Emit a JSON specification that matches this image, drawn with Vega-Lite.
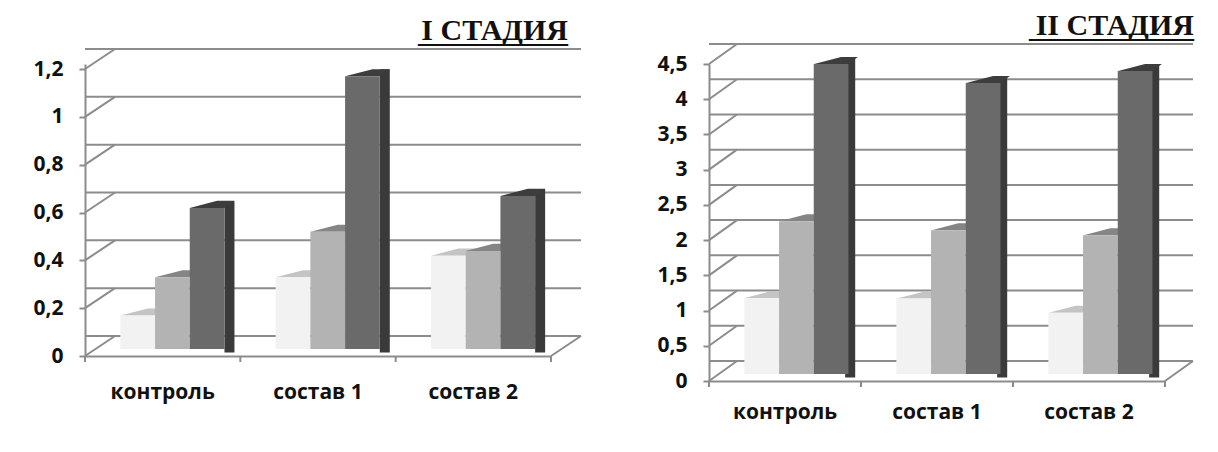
{
  "$schema": "https://vega.github.io/schema/vega-lite/v6.json",
  "padding": {"left": 32, "top": 11, "right": 0, "bottom": 20},
  "background": "white",
  "spacing": 70,
  "config": {
    "view": {"stroke": null},
    "axis": {
      "labelFont": "Open Sans",
      "labelFontSize": 21,
      "labelFontWeight": "bold",
      "labelColor": "#111111",
      "labelOverlap": false,
      "domainColor": "#8c8c8c",
      "domainWidth": 2,
      "tickColor": "#8c8c8c",
      "tickWidth": 2,
      "grid": false,
      "title": null
    },
    "title": {
      "font": "Liberation Serif",
      "fontSize": 30,
      "fontWeight": "bold",
      "color": "#111111",
      "subtitleFont": "Liberation Serif",
      "subtitleFontSize": 30,
      "subtitleFontWeight": "bold",
      "subtitleColor": "#111111",
      "subtitlePadding": -28,
      "anchor": "end",
      "frame": "group"
    }
  },
  "datasets": {
    "stage1": [
      {"cat": "контроль", "series": "1", "value": 0.14},
      {"cat": "контроль", "series": "2", "value": 0.30},
      {"cat": "контроль", "series": "3", "value": 0.59},
      {"cat": "состав 1", "series": "1", "value": 0.30},
      {"cat": "состав 1", "series": "2", "value": 0.49},
      {"cat": "состав 1", "series": "3", "value": 1.14},
      {"cat": "состав 2", "series": "1", "value": 0.39},
      {"cat": "состав 2", "series": "2", "value": 0.41},
      {"cat": "состав 2", "series": "3", "value": 0.64}
    ],
    "stage2": [
      {"cat": "контроль", "series": "1", "value": 1.08},
      {"cat": "контроль", "series": "2", "value": 2.17},
      {"cat": "контроль", "series": "3", "value": 4.40},
      {"cat": "состав 1", "series": "1", "value": 1.07},
      {"cat": "состав 1", "series": "2", "value": 2.04},
      {"cat": "состав 1", "series": "3", "value": 4.13},
      {"cat": "состав 2", "series": "1", "value": 0.87},
      {"cat": "состав 2", "series": "2", "value": 1.97},
      {"cat": "состав 2", "series": "3", "value": 4.30}
    ],
    "grid1": [{"v": 0}, {"v": 0.2}, {"v": 0.4}, {"v": 0.6}, {"v": 0.8}, {"v": 1.0}, {"v": 1.2}],
    "grid2": [{"v": 0}, {"v": 0.5}, {"v": 1}, {"v": 1.5}, {"v": 2}, {"v": 2.5}, {"v": 3}, {"v": 3.5}, {"v": 4}, {"v": 4.5}],
    "cats": [{"cat": "контроль"}, {"cat": "состав 1"}, {"cat": "состав 2"}]
  },
  "hconcat": [
    {
      "width": 466,
      "height": 292,
      "title": {"text": "I СТАДИЯ", "subtitle": "__________", "dx": 17, "offset": -3},
      "resolve": {"scale": {"color": "independent"}},
      "layer": [
        {
          "data": {"name": "grid1"},
          "mark": {"type": "rule", "color": "#8c8c8c", "strokeWidth": 2, "xOffset": 30, "yOffset": -20},
          "encoding": {
            "y": {
              "field": "v", "type": "quantitative",
              "scale": {"domain": [0, 1.221], "nice": false, "zero": true},
              "axis": {"values": [0, 0.2, 0.4, 0.6, 0.8, 1, 1.2], "tickSize": 6, "labelPadding": 16, "labelOverlap": false, "labelExpr": "replace(format(datum.value, '~g'), '.', ',')"}
            }
          }
        },
        {
          "data": {"name": "grid1"},
          "mark": {"type": "point", "shape": "M-2.589,0L-1.589,-0.667", "size": 3600, "filled": false, "stroke": "#8c8c8c", "strokeWidth": 2, "opacity": 1},
          "encoding": {
            "x": {"datum": "контроль", "type": "nominal"},
            "y": {"field": "v", "type": "quantitative",
              "axis": {"values": [0, 0.2, 0.4, 0.6, 0.8, 1, 1.2], "tickSize": 6, "labelPadding": 16, "labelOverlap": false, "labelExpr": "replace(format(datum.value, '~g'), '.', ',')"}}
          }
        },
        {
          "data": {"name": "cats"},
          "mark": {"type": "point", "shape": "M-12.944,0L-12.944,1", "size": 144, "filled": false, "stroke": "#8c8c8c", "strokeWidth": 2, "opacity": 1},
          "encoding": {
            "x": {"field": "cat", "type": "nominal"},
            "y": {"datum": 0, "type": "quantitative",
              "axis": {"values": [0, 0.2, 0.4, 0.6, 0.8, 1, 1.2], "tickSize": 6, "labelPadding": 16, "labelOverlap": false, "labelExpr": "replace(format(datum.value, '~g'), '.', ',')"}}
          }
        },
        {
          "data": {"values": [{"cat": "состав 2"}]},
          "mark": {"type": "point", "shape": "M2.589,0L3.589,-0.667M2.589,0L2.589,0.2", "size": 3600, "filled": false, "stroke": "#8c8c8c", "strokeWidth": 2, "opacity": 1},
          "encoding": {
            "x": {"field": "cat", "type": "nominal"},
            "y": {"datum": 0, "type": "quantitative",
              "axis": {"values": [0, 0.2, 0.4, 0.6, 0.8, 1, 1.2], "tickSize": 6, "labelPadding": 16, "labelOverlap": false, "labelExpr": "replace(format(datum.value, '~g'), '.', ',')"}}
          }
        },
        {
          "data": {"name": "stage1"},
          "transform": [{"filter": "datum.series == '3'"}],
          "mark": {"type": "rule", "strokeWidth": 10, "strokeCap": "butt", "xOffset": 66.8, "yOffset": -14, "y2Offset": -3.5, "color": "#3a3a3a"},
          "encoding": {
            "x": {"field": "cat", "type": "nominal"},
            "y": {"field": "value", "type": "quantitative",
              "axis": {"values": [0, 0.2, 0.4, 0.6, 0.8, 1, 1.2], "tickSize": 6, "labelPadding": 16, "labelOverlap": false, "labelExpr": "replace(format(datum.value, '~g'), '.', ',')"}},
            "y2": {"datum": 0}
          }
        },
        {
          "data": {"name": "stage1"},
          "mark": {"type": "point", "shape": "M-1,0L1,0L1.58,-0.41L0.58,-0.41Z", "size": 1204, "filled": true, "strokeWidth": 0, "opacity": 1, "yOffset": -7},
          "encoding": {
            "x": {"field": "cat", "type": "nominal"},
            "xOffset": {"field": "series", "type": "nominal"},
            "y": {"field": "value", "type": "quantitative",
              "axis": {"values": [0, 0.2, 0.4, 0.6, 0.8, 1, 1.2], "tickSize": 6, "labelPadding": 16, "labelOverlap": false, "labelExpr": "replace(format(datum.value, '~g'), '.', ',')"}},
            "color": {"field": "series", "type": "nominal", "legend": null,
              "scale": {"domain": ["1", "2", "3"], "range": ["#c4c4c4", "#858585", "#3d3d3d"]}}
          }
        },
        {
          "data": {"name": "stage1"},
          "mark": {"type": "bar", "yOffset": -7, "y2Offset": -7},
          "encoding": {
            "x": {
              "field": "cat", "type": "nominal",
              "scale": {"domain": ["контроль", "состав 1", "состав 2"], "paddingInner": 0, "paddingOuter": 0},
              "axis": {"labelAngle": 0, "labelAlign": "center", "ticks": false, "labelPadding": 36}
            },
            "xOffset": {"field": "series", "type": "nominal",
              "scale": {"domain": ["1", "2", "3"], "paddingInner": 0, "paddingOuter": 0.738, "align": 0.69}},
            "y": {"field": "value", "type": "quantitative",
              "axis": {"values": [0, 0.2, 0.4, 0.6, 0.8, 1, 1.2], "tickSize": 6, "labelPadding": 16, "labelOverlap": false, "labelExpr": "replace(format(datum.value, '~g'), '.', ',')"}},
            "y2": {"datum": 0},
            "color": {"field": "series", "type": "nominal", "legend": null,
              "scale": {"domain": ["1", "2", "3"], "range": ["#f2f2f2", "#b3b3b3", "#6a6a6a"]}}
          }
        }
      ]
    },
    {
      "width": 456,
      "height": 317,
      "title": {"text": "II СТАДИЯ", "subtitle": "___________", "dx": 29, "offset": -3},
      "resolve": {"scale": {"color": "independent"}},
      "layer": [
        {
          "data": {"name": "grid2"},
          "mark": {"type": "rule", "color": "#8c8c8c", "strokeWidth": 2, "xOffset": 28, "yOffset": -20},
          "encoding": {
            "y": {
              "field": "v", "type": "quantitative",
              "scale": {"domain": [0, 4.5], "nice": false, "zero": true},
              "axis": {"values": [0, 0.5, 1, 1.5, 2, 2.5, 3, 3.5, 4, 4.5], "tickSize": 6, "labelPadding": 16, "labelOverlap": false, "labelExpr": "replace(format(datum.value, '~g'), '.', ',')"}
            }
          }
        },
        {
          "data": {"name": "grid2"},
          "mark": {"type": "point", "shape": "M-2.714,0L-1.714,-0.714", "size": 3136, "filled": false, "stroke": "#8c8c8c", "strokeWidth": 2, "opacity": 1},
          "encoding": {
            "x": {"datum": "контроль", "type": "nominal"},
            "y": {"field": "v", "type": "quantitative",
              "axis": {"values": [0, 0.5, 1, 1.5, 2, 2.5, 3, 3.5, 4, 4.5], "tickSize": 6, "labelPadding": 16, "labelOverlap": false, "labelExpr": "replace(format(datum.value, '~g'), '.', ',')"}}
          }
        },
        {
          "data": {"name": "cats"},
          "mark": {"type": "point", "shape": "M-12.667,0L-12.667,1", "size": 144, "filled": false, "stroke": "#8c8c8c", "strokeWidth": 2, "opacity": 1},
          "encoding": {
            "x": {"field": "cat", "type": "nominal"},
            "y": {"datum": 0, "type": "quantitative",
              "axis": {"values": [0, 0.5, 1, 1.5, 2, 2.5, 3, 3.5, 4, 4.5], "tickSize": 6, "labelPadding": 16, "labelOverlap": false, "labelExpr": "replace(format(datum.value, '~g'), '.', ',')"}}
          }
        },
        {
          "data": {"values": [{"cat": "состав 2"}]},
          "mark": {"type": "point", "shape": "M2.714,0L3.714,-0.714M2.714,0L2.714,0.214", "size": 3136, "filled": false, "stroke": "#8c8c8c", "strokeWidth": 2, "opacity": 1},
          "encoding": {
            "x": {"field": "cat", "type": "nominal"},
            "y": {"datum": 0, "type": "quantitative",
              "axis": {"values": [0, 0.5, 1, 1.5, 2, 2.5, 3, 3.5, 4, 4.5], "tickSize": 6, "labelPadding": 16, "labelOverlap": false, "labelExpr": "replace(format(datum.value, '~g'), '.', ',')"}}
          }
        },
        {
          "data": {"name": "stage2"},
          "transform": [{"filter": "datum.series == '3'"}],
          "mark": {"type": "rule", "strokeWidth": 10, "strokeCap": "butt", "xOffset": 65.2, "yOffset": -14, "y2Offset": -3.5, "color": "#3a3a3a"},
          "encoding": {
            "x": {"field": "cat", "type": "nominal"},
            "y": {"field": "value", "type": "quantitative",
              "axis": {"values": [0, 0.5, 1, 1.5, 2, 2.5, 3, 3.5, 4, 4.5], "tickSize": 6, "labelPadding": 16, "labelOverlap": false, "labelExpr": "replace(format(datum.value, '~g'), '.', ',')"}},
            "y2": {"datum": 0}
          }
        },
        {
          "data": {"name": "stage2"},
          "mark": {"type": "point", "shape": "M-1,0L1,0L1.59,-0.415L0.59,-0.415Z", "size": 1136, "filled": true, "strokeWidth": 0, "opacity": 1, "yOffset": -7},
          "encoding": {
            "x": {"field": "cat", "type": "nominal"},
            "xOffset": {"field": "series", "type": "nominal"},
            "y": {"field": "value", "type": "quantitative",
              "axis": {"values": [0, 0.5, 1, 1.5, 2, 2.5, 3, 3.5, 4, 4.5], "tickSize": 6, "labelPadding": 16, "labelOverlap": false, "labelExpr": "replace(format(datum.value, '~g'), '.', ',')"}},
            "color": {"field": "series", "type": "nominal", "legend": null,
              "scale": {"domain": ["1", "2", "3"], "range": ["#c4c4c4", "#858585", "#3d3d3d"]}}
          }
        },
        {
          "data": {"name": "stage2"},
          "mark": {"type": "bar", "yOffset": -7, "y2Offset": -7},
          "encoding": {
            "x": {
              "field": "cat", "type": "nominal",
              "scale": {"domain": ["контроль", "состав 1", "состав 2"], "paddingInner": 0, "paddingOuter": 0},
              "axis": {"labelAngle": 0, "labelAlign": "center", "ticks": false, "labelPadding": 31}
            },
            "xOffset": {"field": "series", "type": "nominal",
              "scale": {"domain": ["1", "2", "3"], "paddingInner": 0, "paddingOuter": 0.755, "align": 0.69}},
            "y": {"field": "value", "type": "quantitative",
              "axis": {"values": [0, 0.5, 1, 1.5, 2, 2.5, 3, 3.5, 4, 4.5], "tickSize": 6, "labelPadding": 16, "labelOverlap": false, "labelExpr": "replace(format(datum.value, '~g'), '.', ',')"}},
            "y2": {"datum": 0},
            "color": {"field": "series", "type": "nominal", "legend": null,
              "scale": {"domain": ["1", "2", "3"], "range": ["#f2f2f2", "#b3b3b3", "#6a6a6a"]}}
          }
        }
      ]
    }
  ]
}
